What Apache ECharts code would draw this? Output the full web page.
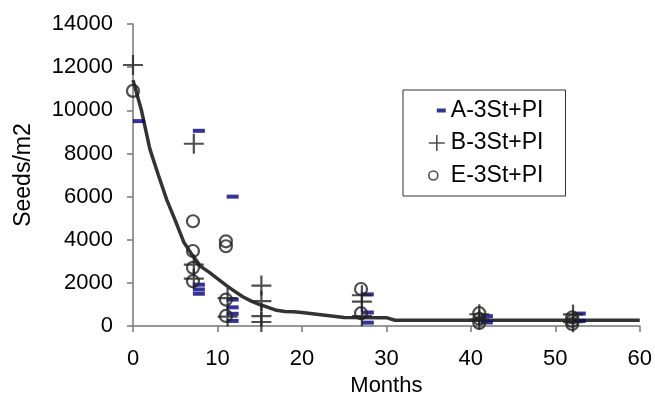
<!DOCTYPE html>
<html>
<head>
<meta charset="utf-8">
<script src="https://cdn.jsdelivr.net/npm/echarts@6/dist/echarts.min.js"></script>
<style>html,body{margin:0;padding:0;background:#fff}#c{width:655px;height:402px}</style>
</head>
<body>
<div id="c"></div>
<script>
// Series A-3St+PI (navy dashes)
var aX = [0.7, 7.8, 7.8, 7.8, 7.8, 11.8, 11.8, 11.8, 11.8, 11.8, 27.8, 27.8, 27.8, 41.9, 41.9, 52.9, 52.9];
var aY = [9500, 9050, 1920, 1700, 1500, 6000, 1230, 870, 570, 240, 1470, 630, 160, 460, 170, 580, 240];
// Series B-3St+PI (plus)
var bX = [0, 7.2, 7.2, 7.2, 11.2, 11.2, 15.2, 15.2, 15.2, 15.2, 27.1, 27.1, 27.1, 41.0, 41.0, 52.1, 52.1];
var bY = [12100, 8450, 2850, 2200, 1300, 440, 1880, 1160, 460, 190, 1430, 1130, 460, 550, 300, 540, 180];
// Series E-3St+PI (open circles)
var eX = [0, 7.1, 7.1, 7.1, 7.1, 11.0, 11.0, 11.0, 11.0, 27.0, 27.0, 41.0, 41.0, 41.0, 52.0, 52.0, 52.0];
var eY = [10900, 4860, 3480, 2700, 2080, 3930, 3700, 1230, 470, 1720, 600, 600, 340, 150, 400, 240, 100];
// Fitted curve
var fitX = [0, 1, 2, 3, 4, 5, 6, 7, 8, 9, 10, 11, 12, 13, 14, 15, 16, 17, 18, 19, 20, 22, 25, 30, 31, 60];
var fitY = [11400, 10000, 8200, 7000, 5850, 4900, 3900, 3300, 2770, 2500, 2200, 1900, 1620, 1360, 1160, 1000, 870, 730, 680, 670, 630, 540, 400, 390, 270, 270];
// Names and ticks
var seriesNames = ['A-3St+PI', 'B-3St+PI', 'E-3St+PI'];
var yMin = 0, yMax = 14000, yStep = 2000;
var xMin = 0, xMax = 60, xStep = 10;

function pairs(xs, ys) { return xs.map(function (x, i) { return [x, ys[i]]; }); }

var FONT = 'Liberation Sans, Arial, sans-serif';
var FS = 22;
var chart = echarts.init(document.getElementById('c'), null, { renderer: 'canvas' });
chart.setOption({
  animation: false,
  backgroundColor: '#fff',
  grid: { left: 133, right: 12, top: 24, bottom: 65 },
  xAxis: {
    type: 'value', min: xMin, max: xMax, interval: xStep,
    name: 'Months', nameLocation: 'middle', nameGap: 41,
    nameTextStyle: { color: '#000', fontFamily: FONT, fontSize: FS },
    axisLine: { onZero: false, lineStyle: { color: '#777', width: 1.5 } },
    axisTick: { inside: false, length: 6, lineStyle: { color: '#777', width: 1.5 } },
    axisLabel: { color: '#000', fontFamily: FONT, fontSize: FS, margin: 22,
      formatter: function (v) { return String(v); } },
    splitLine: { show: false }
  },
  yAxis: {
    type: 'value', min: yMin, max: yMax, interval: yStep,
    name: 'Seeds/m2', nameLocation: 'middle', nameGap: 98, nameRotate: 90,
    nameTextStyle: { color: '#000', fontFamily: FONT, fontSize: 23 },
    axisLine: { show: true, lineStyle: { color: '#777', width: 1.5 } },
    axisTick: { show: true, inside: false, length: 6, lineStyle: { color: '#777', width: 1.5 } },
    axisLabel: { color: '#000', fontFamily: FONT, fontSize: FS, margin: 20,
      formatter: function (v) { return String(v); } },
    splitLine: { show: false }
  },
  legend: {
    orient: 'vertical', left: 403, top: 90,
    padding: [9, 22, 9, 24],
    itemWidth: 18, itemHeight: 18, itemGap: 9.5,
    selectedMode: false,
    borderColor: '#333', borderWidth: 1,
    textStyle: { color: '#000', fontFamily: FONT, fontSize: 23 },
    data: [
      { name: seriesNames[0], icon: 'path://M0,0 M18,18 M9,7 L18,7 L18,11 L9,11 Z',
        itemStyle: { color: '#000080', borderWidth: 0 } },
      { name: seriesNames[1], icon: 'path://M0,0 M18,18 M1,9 L17,9 M9,1 L9,17',
        itemStyle: { color: 'rgba(0,0,0,0)', borderColor: '#222', borderWidth: 1.6 } },
      { name: seriesNames[2], icon: 'path://M0,0 M18,18 M1,9 A4.5,4.5 0 1 1 10,9 A4.5,4.5 0 1 1 1,9 Z',
        itemStyle: { color: 'rgba(0,0,0,0)', borderColor: '#222', borderWidth: 1.6 } }
    ]
  },
  series: [
    {
      name: 'fit', type: 'line', data: pairs(fitX, fitY), showSymbol: false, symbol: 'none',
      lineStyle: { color: '#333', width: 3.5 }, z: 3, silent: true
    },
    {
      name: seriesNames[0], type: 'scatter', data: pairs(aX, aY),
      symbol: 'rect', symbolSize: [12, 4],
      itemStyle: { color: '#000080' }, z: 4
    },
    {
      name: seriesNames[1], type: 'scatter', data: pairs(bX, bY),
      symbol: 'path://M0,10 L20,10 M10,0 L10,20', symbolSize: 20,
      itemStyle: { color: 'rgba(0,0,0,0)', borderColor: '#222', borderWidth: 2.2 }, z: 5
    },
    {
      name: seriesNames[2], type: 'scatter', data: pairs(eX, eY),
      symbol: 'circle', symbolSize: 12,
      itemStyle: { color: 'rgba(0,0,0,0)', borderColor: '#222', borderWidth: 2.2 }, z: 5
    }
  ]
});
</script>
</body>
</html>
